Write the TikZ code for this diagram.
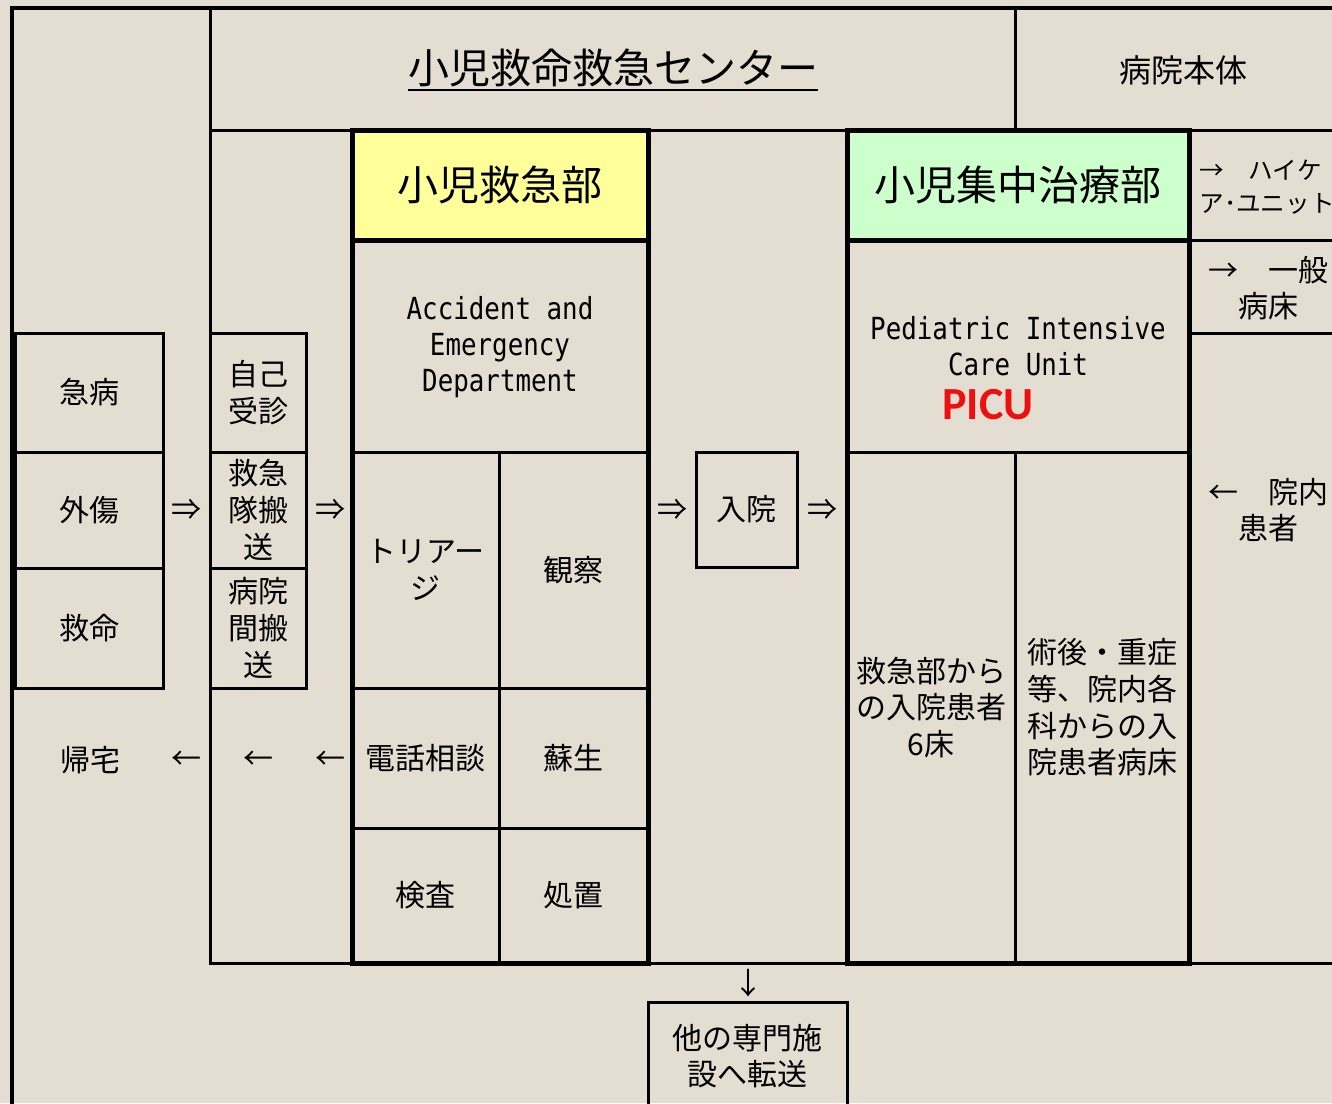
\documentclass[tikz,border=0pt]{standalone}
\usepackage{fontspec}
\setmainfont{Noto Sans CJK JP}
\newfontfamily\monof[FakeStretch=0.85]{DejaVu Sans Mono}
\newfontfamily\carlito{Carlito}
\definecolor{bgc}{RGB}{228,221,209}
\definecolor{yel}{RGB}{255,255,153}
\definecolor{grn}{RGB}{204,255,204}
\definecolor{picured}{RGB}{238,16,16}
\newcommand\jpf{\fontsize{15}{18.3}\selectfont}
\newcommand\myuline[1]{\setbox0\hbox{#1}\rlap{\rule[-3.6pt]{\wd0}{0.9pt}}\box0}
\tikzset{
  cell/.style={draw=black, line width=1.5pt, inner sep=0pt, outer sep=0pt, align=center, font=\jpf},
  thickframe/.style={draw=black, line width=2.5pt},
  thinline/.style={draw=black, line width=1.5pt},
  jtext/.style={inner sep=0pt, align=center, font=\jpf},
  entext/.style={inner sep=0pt, align=center, font=\monof\fontsize{15.2}{18}\selectfont},
  headtext/.style={font=\fontsize{20.5}{24}\selectfont},
}
% \cellbox[options]{name}{x1}{y1}{x2}{y2}{text}  (pixel units)
\newcommand\cellbox[7][]{%
  \pgfmathsetmacro\cbx{(#3+#5)/2}%
  \pgfmathsetmacro\cby{(#4+#6)/2}%
  \pgfmathsetmacro\cbw{(#5-#3)*0.5}%
  \pgfmathsetmacro\cbh{(#6-#4)*0.5}%
  \node[cell, minimum width=\cbw pt, minimum height=\cbh pt, #1] (#2) at (\cbx,\cby) {#7};}
\begin{document}
\begin{tikzpicture}[x=0.5pt, y=-0.5pt]
\useasboundingbox (0,0) rectangle (1332,1103);
\clip (0,0) rectangle (1332,1103);
\fill[bgc] (0,0) rectangle (1332,1103);

% frame lines
\draw[thinline] (210,8) -- (210,963) -- (1345,963);
\draw[thinline] (210,130) -- (1345,130);
\draw[thinline] (1015,8) -- (1015,130);
\draw[line width=2.25pt] (12,1110) -- (12,8) -- (1345,8);

% title row
\node[jtext, headtext] (title) at (613,70) {\myuline{小児救命救急センター}};
\node[jtext, font=\fontsize{16}{19}\selectfont] (honbu) at (1183,70) {病院本体};

% left column
\cellbox{kyubyo}{15}{333}{163}{452}{急病}
\cellbox{gaisho}{15}{452}{163}{568}{外傷}
\cellbox{kyumei}{15}{568}{163}{688}{救命}
\node[jtext] (kitaku) at (90,760) {帰宅};

% transport column
\cellbox{jiko}{210}{333}{306}{452}{自己\\受診}
\cellbox{kyukyutai}{210}{452}{306}{568}{救急\\隊搬\\送}
\cellbox{byoinkan}{210}{568}{306}{688}{病院\\間搬\\送}

% ER block
\cellbox[fill=yel, headtext]{erhead}{352}{130}{648}{240}{小児救急部}
\cellbox{erdesc}{352}{240}{648}{452}{}
\node[entext] (ertext) at (500,347) {Accident and\\Emergency\\Department};
\cellbox{triage}{352}{452}{499}{688}{トリアー\\ジ}
\cellbox{kansatsu}{499}{452}{648}{688}{観察}
\cellbox{denwa}{352}{688}{499}{828}{電話相談}
\cellbox{sosei}{499}{688}{648}{828}{蘇生}
\cellbox{kensa}{352}{828}{499}{963}{検査}
\cellbox{shochi}{499}{828}{648}{963}{処置}
\draw[thickframe] (erhead.north west) rectangle (shochi.south east);
\draw[thickframe] (erhead.south west) -- (erhead.south east);

% admission / transfer
\cellbox{nyuin}{696}{452}{797}{567}{入院}
\cellbox{tenso}{648}{1002}{847}{1110}{他の専門施\\設へ転送}

% PICU block
\cellbox[fill=grn, headtext]{picuhead}{847}{130}{1189}{240}{小児集中治療部}
\cellbox{picudesc}{847}{240}{1189}{452}{}
\node[entext] (picuen) at (1018,346) {Pediatric Intensive\\Care Unit};
\node[inner sep=0pt, text=picured, font=\carlito\bfseries\fontsize{23}{26}\selectfont] (picuab) at (988,405) {PICU};
\cellbox{picusix}{847}{452}{1015}{963}{救急部から\\の入院患者\\6床}
\cellbox{picuother}{1015}{452}{1189}{963}{術後・重症\\等、院内各\\科からの入\\院患者病床}
\draw[thickframe] (picuhead.north west) rectangle (picuother.south east);
\draw[thickframe] (picuhead.south west) -- (picuhead.south east);

% right column
\cellbox{highcare}{1189}{130}{1345}{240}{}
\node[jtext, anchor=west, align=left, font=\fontsize{12.3}{16.5}\selectfont] (hctext) at (1199,187) {→　ハイケ\\ア･ユニット};
\cellbox{ippan}{1189}{240}{1345}{333}{}
\node[jtext] (ippantext) at (1268,288) {→　一般\\病床};
\cellbox{innai}{1189}{333}{1345}{963}{}
\node[jtext] (innaitext) at (1268,510) {←　院内\\患者};
\draw[thickframe] (picuhead.north east) -- (picuother.south east);

% arrows (glyphs)
\node[jtext] (ar1) at (186,510) {⇒};
\node[jtext] (ar2) at (330,510) {⇒};
\node[jtext] (ar3) at (672,510) {⇒};
\node[jtext] (ar4) at (822,510) {⇒};
\node[jtext] (al1) at (186,760) {←};
\node[jtext] (al2) at (258,760) {←};
\node[jtext] (al3) at (330,760) {←};
\node[jtext] (ad1) at (748,983) {↓};
\end{tikzpicture}
\end{document}
